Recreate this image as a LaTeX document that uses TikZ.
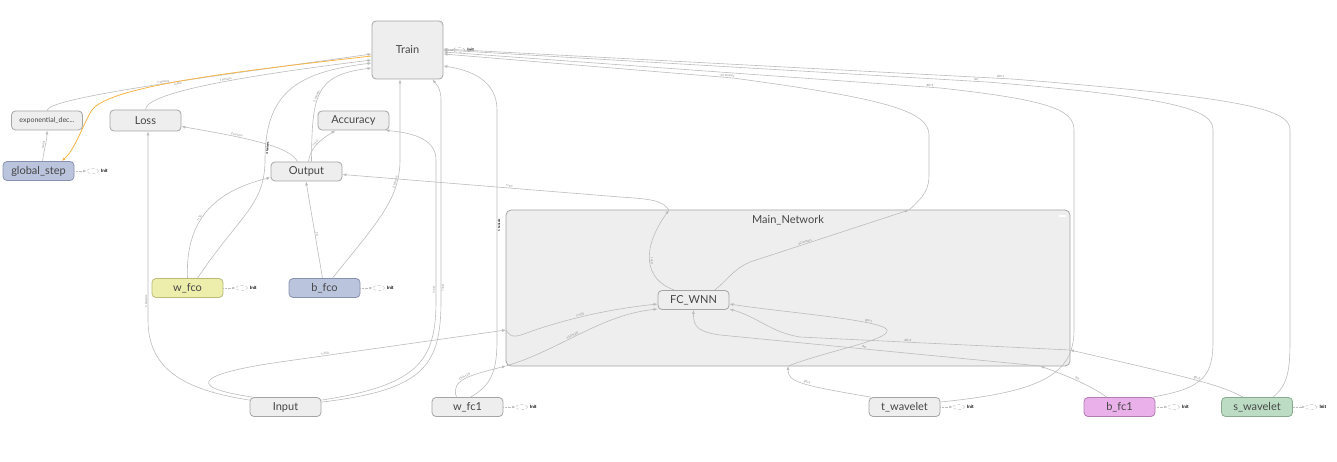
\documentclass[tikz,border=0pt]{standalone}
\usepackage{fontspec}
\setmainfont{Lato}
\usetikzlibrary{positioning,arrows.meta,shapes.geometric}

\definecolor{nodefill}{RGB}{238,238,238}
\definecolor{nodeline}{RGB}{165,165,165}
\definecolor{edgecol}{RGB}{188,188,188}
\definecolor{txtcol}{RGB}{70,70,70}
\definecolor{bluefill}{RGB}{187,196,221}
\definecolor{blueline}{RGB}{135,145,175}
\definecolor{yellowfill}{RGB}{238,238,172}
\definecolor{yellowline}{RGB}{185,185,120}
\definecolor{pinkfill}{RGB}{234,176,234}
\definecolor{pinkline}{RGB}{175,125,175}
\definecolor{greenfill}{RGB}{188,221,196}
\definecolor{greenline}{RGB}{135,170,145}
\definecolor{hotcol}{RGB}{247,181,71}

\tikzset{
  op/.style={draw=nodeline, fill=nodefill, line width=0.8pt, rounded corners=4pt,
    minimum width=71pt, minimum height=19pt, inner sep=0pt, text=txtcol,
    font=\fontsize{11}{13}\selectfont},
  group/.style={draw=nodeline, fill=nodefill, line width=0.8pt, rounded corners=5pt, inner sep=0pt},
  flow/.style={draw=edgecol, line width=0.6pt, -{Latex[length=4pt,width=3pt]}},
  flowhot/.style={flow, draw=hotcol, line width=0.8pt},
  elab/.style={font=\fontsize{3}{3.5}\selectfont, text=gray, sloped, above, inner sep=0.6pt},
  clab/.style={elab, text=black, font=\fontsize{3}{3.5}\selectfont\bfseries},
  initell/.style={ellipse, draw=edgecol, densely dashed, minimum width=12pt, minimum height=5pt, inner sep=0pt},
  initlab/.style={font=\fontsize{4.5}{5}\selectfont\bfseries, inner sep=0pt},
  initline/.style={draw=edgecol, densely dotted, -{Latex[length=3pt,width=2.5pt]}}
}

\begin{document}
\begin{tikzpicture}[x=1pt,y=-1pt]
\useasboundingbox (0,0) rectangle (1337,462);

% group
\node[group, minimum width=564pt, minimum height=156pt] (mainnet) at (788,288) {};
\node[text=txtcol, font=\fontsize{11}{13}\selectfont] (mntitle) at (788,220) {Main\_Network};
\node[fill=white, minimum width=7pt, minimum height=2pt, inner sep=0pt] (mnbtn) at (1062,216) {};

% ops
\node[op, minimum height=58pt] (train) at (407.5,50) {Train};
\node[op, font=\fontsize{7}{8}\selectfont] (expdec) at (47,120.5) {exponential\_dec...};
\node[op, fill=bluefill, draw=blueline] (gstep) at (38.5,171) {global\_step};
\node[op, minimum height=21pt] (loss) at (145.5,120.5) {Loss};
\node[op] (acc) at (353.5,120.5) {Accuracy};
\node[op] (output) at (306.5,171.5) {Output};
\node[op, fill=yellowfill, draw=yellowline] (wfco) at (187.5,288) {w\_fco};
\node[op, fill=bluefill, draw=blueline] (bfco) at (324.5,288) {b\_fco};
\node[op] (fcwnn) at (693.5,300) {FC\_WNN};
\node[op] (input) at (285.5,407) {Input};
\node[op] (wfc1) at (467.5,407) {w\_fc1};
\node[op] (twave) at (904.5,407) {t\_wavelet};
\node[op, fill=pinkfill, draw=pinkline] (bfc1) at (1119.5,407) {b\_fc1};
\node[op, fill=greenfill, draw=greenline] (swave) at (1257,407) {s\_wavelet};

% bridge points on the group border
\coordinate (mnin1) at (506,330);
\coordinate (mnin2) at (506,366);
\coordinate (mnout1) at (669,210);
\coordinate (mnout2) at (909,210);
\coordinate (mnin3) at (788,366);
\coordinate (mnin4) at (1040,366);
\coordinate (mnin5) at (1070,350);

% init markers
\foreach \n in {gstep,wfco,bfco,wfc1,twave,bfc1,swave}{
  \node[initell, right=12pt of \n] (\n-ie) {};
  \node[initlab, right=2pt of \n-ie] (\n-il) {Init};
  \draw[initline] (\n) -- (\n-ie);
}
\node[initell] (train-ie) at (459,50) {};
\node[initlab, right=2pt of train-ie] (train-il) {Init};
\draw[initline] (train-ie) -- (train);

% left part
\draw[flow] (expdec.north) .. controls (47,98) and (200,78) .. node[elab, pos=0.55] {1 tensors} ([yshift=-4pt]train.west);
\draw[flowhot] ([yshift=-6pt]train.west) .. controls (250,70) and (110,85) .. node[elab, below, pos=0.55] {scalar} (92,110)
  .. controls (84,122) and (75,150) .. ([xshift=23pt]gstep.north);
\draw[flow] ([xshift=4pt]gstep.north) .. controls (44,150) and (47,140) .. node[elab, pos=0.5] {scalar} (expdec.south);
\draw[flow] (loss.north) .. controls (146,92) and (250,75) .. node[elab, pos=0.55] {1 tensors} ([yshift=-10pt]train.west);
\draw[flow] ([xshift=-9pt]output.north) .. controls (290,148) and (260,140) .. node[elab, pos=0.72] {2 tensors} ([yshift=-6pt]loss.east);
\draw[flow] ([xshift=2pt]output.north) .. controls (310,148) and (320,140) .. node[elab, pos=0.5] {?×10} ([xshift=-18pt]acc.south);
\draw[flow] ([xshift=5pt]output.north) .. controls (312,95) and (315,75) .. node[elab, pos=0.45] {2 tensors} ([yshift=-18pt]train.west);
\draw[flow] (wfco.north) .. controls (185,215) and (220,190) .. node[elab, pos=0.4] {?×10} ([yshift=-6pt]output.west);
\draw[flow] ([xshift=10pt]wfco.north) .. controls (240,215) and (265,205) .. (265,160)
  .. controls (265,90) and (300,72) .. node[clab, below, pos=0.06] {4 tensors} ([yshift=-13pt]train.west);
\draw[flow] ([xshift=-2pt]bfco.north) -- node[elab, pos=0.45] {10} ([xshift=-0.5pt]output.south);
\draw[flow] ([xshift=8pt]bfco.north) .. controls (375,225) and (400,200) .. node[elab, pos=0.8] {2 tensors} (400,160)
  -- ([xshift=-7.5pt]train.south);

% Input
\draw[flow] ([yshift=-3pt]input.north west) .. controls (185,390) and (148,370) .. (148,320)
  -- node[elab, pos=0.1] {1 tensors} ([xshift=2.5pt]loss.south);
\draw[flow] ([yshift=-3pt]input.north east) .. controls (420,385) and (436,360) .. (436,300)
  -- node[elab, pos=0.07] {?×10} (436,160) .. controls (436,140) and (415,133) .. ([xshift=32pt]acc.south);
\draw[flow] ([yshift=-5pt]input.north east) .. controls (425,390) and (441,365) .. (441,300)
  -- node[elab, below, pos=0.06] {?×10} (441,100) .. controls (441,88) and (436,84) .. ([xshift=25pt]train.south);
\draw[flow] ([xshift=3pt]input.north west) .. controls (190,388) and (190,375) .. (280,362)
  -- node[elab, pos=0.2] {?×150} (mnin1);
\draw[flow] (mnin1) .. controls (512,340) and (518,336) .. (535,330)
  .. controls (580,315) and (620,308) .. node[elab, pos=0.35] {?×150} ([yshift=-4pt]fcwnn.west);

% w_fc1
\draw[flow] ([xshift=-11pt]wfc1.north) .. controls (450,380) and (470,375) .. node[elab, pos=0.5] {150×128} (mnin2);
\draw[flow] (mnin2) .. controls (560,350) and (600,315) .. node[elab, pos=0.45] {150×128} ([yshift=-9pt]fcwnn.west);
\draw[flow] ([xshift=3pt]wfc1.north) .. controls (492,385) and (497,370) .. (497,340)
  -- node[clab, below, pos=0.5] {1 tensors} (497,110) .. controls (497,80) and (470,70) .. ([yshift=-16pt]train.east);

% Main_Network out
\draw[flow] ([xshift=-19pt]fcwnn.north) .. controls (645,280) and (640,250) .. node[elab, pos=0.5] {?×10} (mnout1);
\draw[flow] (mnout1) .. controls (662,200) and (650,199) .. (620,197)
  -- node[elab, pos=0.4] {?×10} ([yshift=-3pt]output.east);
\draw[flow] ([xshift=21pt]fcwnn.north) .. controls (728,280) and (732,270) .. (750,262)
  -- node[elab, pos=0.35] {22 tensors} (mnout2);
\draw[flow] (mnout2) .. controls (925,196) and (929,188) .. (929,175) -- (929,135)
  .. controls (929,110) and (880,98) .. (733,78) -- node[elab, pos=0.02] {22 tensors} ([yshift=-4pt]train.east);

% t_wavelet
\draw[flow] ([xshift=2pt]twave.north west) .. controls (800,385) and (788,382) .. node[elab, pos=0.45] {80×1} (mnin3);
\draw[flow] (mnin3) .. controls (830,350) and (890,340) .. (887,330)
  .. controls (884,320) and (780,312) .. node[elab, pos=0.25] {80×1} ([yshift=-4pt]fcwnn.east);
\draw[flow] ([yshift=5pt]twave.east) .. controls (1040,392) and (1074,375) .. (1074,330) -- (1074,130)
  .. controls (1074,110) and (1050,100) .. (940,88) -- node[elab, pos=0.02] {80×1} ([yshift=-2pt]train.east);

% b_fc1
\draw[flow] ([xshift=-13pt]bfc1.north) .. controls (1090,385) and (1065,375) .. node[elab, pos=0.5] {80} (mnin4);
\draw[flow] (mnin4) -- node[elab, pos=0.55] {80} (720,335) .. controls (700,332) and (693,328) .. (fcwnn.south);
\draw[flow] ([xshift=-3pt]bfc1.north east) .. controls (1205,388) and (1213,375) .. (1213,340) -- (1213,130)
  .. controls (1213,110) and (1180,98) .. (987,82) -- node[elab, pos=0.02] {80} (train.east);

% s_wavelet
\draw[flow] ([xshift=-14pt]swave.north) .. controls (1220,385) and (1200,380) .. node[elab, pos=0.5] {80×1} (mnin5);
\draw[flow] (mnin5) -- node[elab, pos=0.6] {80×1} (800,337) .. controls (770,332) and (760,318) .. ([yshift=-9pt]fcwnn.east);
\draw[flow] ([xshift=16pt]swave.north) .. controls (1288,385) and (1290,370) .. (1290,340) -- (1290,130)
  .. controls (1290,110) and (1250,98) .. (1012,79) -- node[elab, pos=0.02] {80×1} ([yshift=1pt]train.east);

\end{tikzpicture}
\end{document}
